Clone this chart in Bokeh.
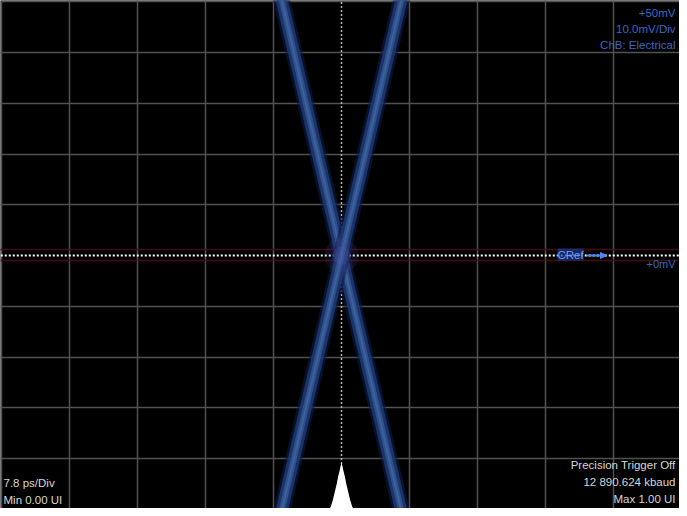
from bokeh.plotting import figure
from bokeh.models import Label, Range1d, FixedTicker, Arrow, NormalHead
from bokeh.embed import file_html
from bokeh.resources import INLINE

# ---- data ----
grid_time_ps = [0.0, 7.8, 15.6, 23.4, 31.2, 46.8, 54.6, 62.4, 70.2, 78.0]
grid_mv = [-50, -40, -30, -20, -10, 10, 20, 30, 40, 50]
center_time_ps = 39.0
center_mv = 0.0

edge_time_ps = [31.5, 46.5]
falling_mv = [55.0, -55.0]
rising_mv = [-55.0, 55.0]

hist_offset_ps = [-1.5, -1.25, -1.0, -0.8, -0.55, -0.38, -0.22, -0.1, 0.0,
                  0.1, 0.22, 0.38, 0.55, 0.8, 1.0, 1.25, 1.5]
hist_height_mv = [0.0, 0.4, 1.8, 3.2, 5.0, 6.5, 7.6, 8.5, 9.2,
                  8.5, 7.6, 6.5, 5.0, 3.2, 1.8, 0.4, 0.0]
hist_base_mv = -50.0

ref_band_mv = [1.2, -1.0]

top_right_text = ["+50mV", "10.0mV/Div", "ChB: Electrical"]
bottom_right_text = ["Precision Trigger Off", "12 890.624 kbaud", "Max 1.00 UI"]
bottom_left_text = ["7.8 ps/Div", "Min 0.00 UI"]

# ---- figure ----
p = figure(width=679, height=508, output_backend="svg", toolbar_location=None,
           x_range=Range1d(-0.115, 77.77), y_range=Range1d(-49.85, 50.25),
           min_border=0, background_fill_color="black", border_fill_color="black",
           outline_line_color=None)
p.xaxis.visible = False
p.yaxis.visible = False
p.xgrid.ticker = FixedTicker(ticks=grid_time_ps)
p.ygrid.ticker = FixedTicker(ticks=grid_mv)
for g in (p.xgrid, p.ygrid):
    g.grid_line_color = "#525252"
    g.grid_line_width = 1.5
    g.grid_line_alpha = 1.0

# faint red reference lines
for mv in ref_band_mv:
    p.line([-1, 80], [mv, mv], line_color="#4a0c14", line_width=1.5, line_alpha=0.9)

# center dotted lines
p.line([center_time_ps, center_time_ps], [-60, 60], line_color="#b5b5b5",
       line_width=1.5, line_dash="2 2")
p.line([-1, 80], [center_mv, center_mv], line_color="#ffffff",
       line_width=2, line_dash="2 2")

# eye crossing bands
for ys in (falling_mv, rising_mv):
    p.line(edge_time_ps, ys, line_color="#0e1c48", line_width=17, line_alpha=0.6)
    p.line(edge_time_ps, ys, line_color="#1f3a74", line_width=12, line_alpha=0.85)
    p.line(edge_time_ps, ys, line_color="#31548f", line_width=6, line_alpha=0.9)
    p.line(edge_time_ps, ys, line_color="#4a6aa8", line_width=2, line_alpha=0.6)

# glow at crossing
p.scatter([center_time_ps], [center_mv], size=34, fill_color="#4a4aa0",
          fill_alpha=0.18, line_color=None)
p.scatter([center_time_ps], [center_mv], size=18, fill_color="#6060b8",
          fill_alpha=0.2, line_color=None)

# histogram spike
hx = [center_time_ps + o for o in hist_offset_ps]
hy = [hist_base_mv + h for h in hist_height_mv]
p.varea(x=hx, y1=[hist_base_mv] * len(hx), y2=hy, fill_color="white")

# ---- texts ----
font = "Liberation Sans"
blue = "#3a68c8"
for i, t in enumerate(top_right_text):
    p.add_layout(Label(x=675, y=496 - 16 * i, x_units="screen", y_units="screen",
                       text=t, text_align="right", text_baseline="middle",
                       text_font=font, text_font_size="11.5px", text_color=blue))

p.add_layout(Label(x=557, y=254, x_units="screen", y_units="screen", text="CRef",
                   text_align="left", text_baseline="middle", text_font=font,
                   text_font_size="11.5px", text_color="#6f9cff",
                   background_fill_color="#1d3a86", background_fill_alpha=0.7))
p.add_layout(Arrow(x_start=586, y_start=253, x_end=606, y_end=253,
                   start_units="screen", end_units="screen",
                   line_color="#4f86f0", line_width=2,
                   end=NormalHead(size=6, fill_color="#4f86f0", line_color="#4f86f0")))
p.add_layout(Label(x=675, y=245, x_units="screen", y_units="screen", text="+0mV",
                   text_align="right", text_baseline="middle", text_font=font,
                   text_font_size="11px", text_color=blue))

for i, t in enumerate(bottom_right_text):
    p.add_layout(Label(x=675, y=44 - 17 * i, x_units="screen", y_units="screen",
                       text=t, text_align="right", text_baseline="middle",
                       text_font=font, text_font_size="11.5px", text_color="#d6d6d6"))
for i, t in enumerate(bottom_left_text):
    p.add_layout(Label(x=3, y=26 - 17 * i, x_units="screen", y_units="screen",
                       text=t, text_align="left", text_baseline="middle",
                       text_font=font, text_font_size="11.5px", text_color="#d6d6d6"))

open("out.html", "w").write(file_html(p, INLINE))
